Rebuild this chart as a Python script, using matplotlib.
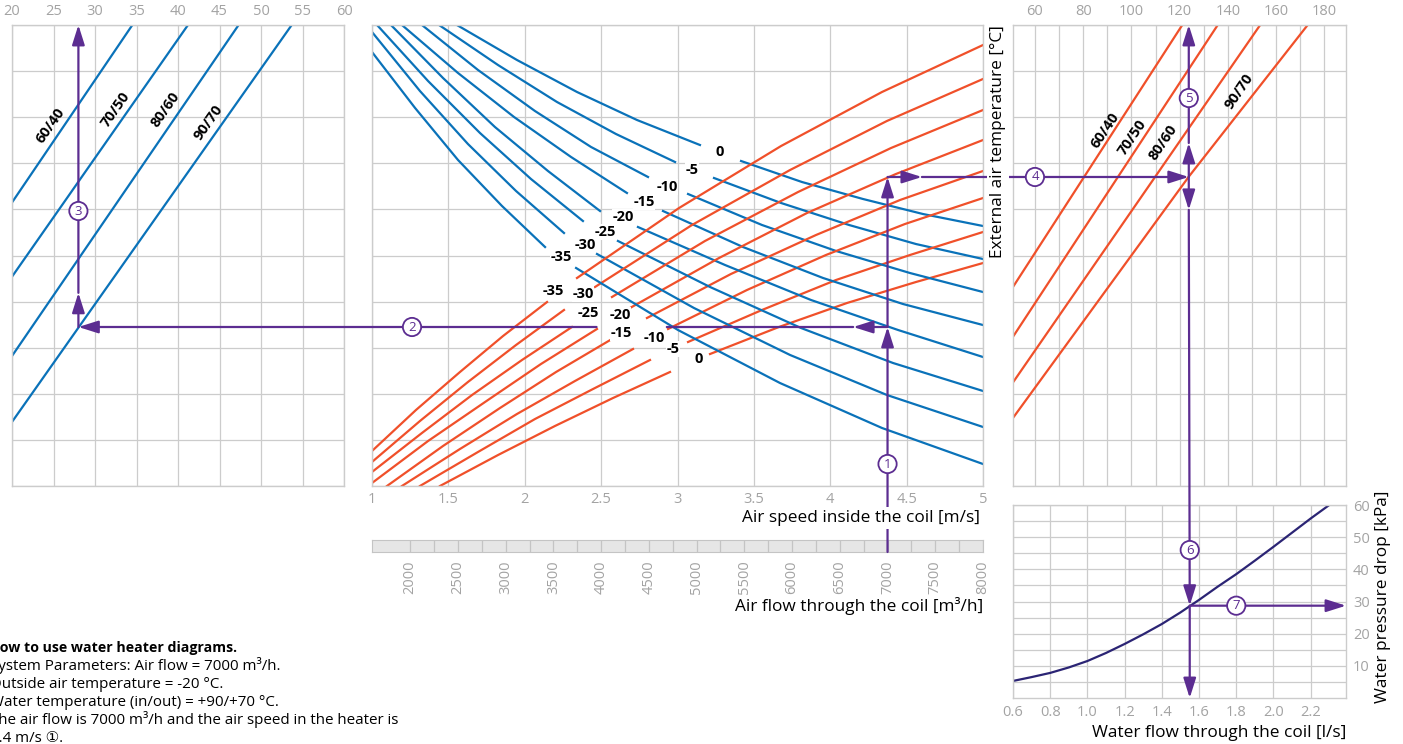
import matplotlib.pyplot as plt
from matplotlib.patches import ConnectionPatch
from matplotlib.ticker import FixedLocator

plt.rcParams['font.family'] = ['Open Sans', 'DejaVu Sans', 'Noto Sans CJK JP']

BLUE = '#0a72b9'
RED = '#f0502a'
NAVY = '#2b2474'
PURPLE = '#5c2d91'
GRID = '#cccccc'
TICK = '#a3a3a3'

# ---------------- data ----------------
regimes = ['60/40', '70/50', '80/60', '90/70']

# left chart (top scale 20..60, shared unlabeled vertical scale 0..10)
left_lines = [
    [(20, 6.15), (34.5, 10.0)],
    [(20, 4.54), (41.2, 10.0)],
    [(20, 2.82), (47.3, 10.0)],
    [(20, 1.39), (53.7, 10.0)],
]
left_label_pos = [(24.6, 7.83), (32.45, 8.16), (38.5, 8.16), (43.7, 7.88)]

# right chart (top scale 60..180)
right_lines = [
    [(50.8, 4.31), (121.1, 10.0)],
    [(50.8, 3.23), (135.8, 10.0)],
    [(50.8, 2.24), (153.4, 10.0)],
    [(50.8, 1.47), (123.8, 6.71), (173.1, 10.0)],
]
right_label_pos = [(89.0, 7.72), (100.5, 7.57), (113.0, 7.46), (144.8, 8.55)]

# middle chart: external air temperature curves vs air speed [m/s]
temps = [0, -5, -10, -15, -20, -25, -30, -35]

blue_upper = {
    0: [(1.556, 10.0), (1.949, 9.241), (2.342, 8.547), (2.735, 7.939), (3.147, 7.397)],
    -5: [(1.439, 10.0), (1.825, 9.132), (2.211, 8.330), (2.597, 7.636), (2.984, 7.028)],
    -10: [(1.327, 10.0), (1.694, 9.024), (2.067, 8.134), (2.434, 7.354), (2.807, 6.703)],
    -15: [(1.196, 10.0), (1.563, 8.959), (1.930, 8.004), (2.303, 7.137), (2.669, 6.356)],
    -20: [(1.124, 10.0), (1.465, 8.850), (1.805, 7.787), (2.152, 6.833), (2.493, 5.965)],
    -25: [(1.033, 10.0), (1.367, 8.785), (1.707, 7.657), (2.041, 6.659), (2.381, 5.748)],
    -30: [(1.0, 9.848), (1.314, 8.568), (1.628, 7.419), (1.943, 6.399), (2.257, 5.488)],
    -35: [(1.0, 9.414), (1.282, 8.200), (1.563, 7.072), (1.851, 6.074), (2.133, 5.184)],
}
blue_lower = {
    0: [(3.416, 7.050), (3.815, 6.594), (4.214, 6.226), (4.607, 5.900), (5.0, 5.640)],
    -5: [(3.239, 6.681), (3.678, 6.139), (4.123, 5.662), (4.561, 5.249), (5.0, 4.924)],
    -10: [(3.069, 6.334), (3.553, 5.662), (4.038, 5.098), (4.522, 4.620), (5.0, 4.208)],
    -15: [(2.905, 5.965), (3.429, 5.184), (3.953, 4.512), (4.476, 3.948), (5.0, 3.492)],
    -20: [(2.741, 5.618), (3.311, 4.794), (3.874, 4.035), (4.444, 3.384), (5.0, 2.798)],
    -25: [(2.610, 5.315), (3.213, 4.317), (3.809, 3.427), (4.411, 2.668), (5.0, 2.061)],
    -30: [(2.473, 5.033), (3.108, 3.861), (3.737, 2.842), (4.371, 1.974), (5.0, 1.280)],
    -35: [(2.336, 4.729), (3.003, 3.384), (3.671, 2.234), (4.339, 1.258), (5.0, 0.477)],
}
blue_label_pos = {
    0: (3.278, 7.245), -5: (3.095, 6.855), -10: (2.931, 6.486), -15: (2.781, 6.161),
    -20: (2.643, 5.835), -25: (2.525, 5.510), -30: (2.394, 5.228), -35: (2.237, 4.967),
}

red_lower = {
    -35: [(1.0, 0.759), (1.288, 1.649), (1.576, 2.473), (1.858, 3.254), (2.146, 3.991)],
    -30: [(1.0, 0.521), (1.314, 1.410), (1.628, 2.256), (1.943, 3.059), (2.257, 3.818)],
    -25: [(1.0, 0.304), (1.327, 1.150), (1.655, 1.974), (1.982, 2.733), (2.309, 3.449)],
    -20: [(1.0, 0.065), (1.367, 0.976), (1.740, 1.822), (2.106, 2.646), (2.473, 3.406)],
    -15: [(1.098, 0.0), (1.465, 0.868), (1.838, 1.692), (2.205, 2.473), (2.571, 3.189)],
    -10: [(1.196, 0.0), (1.576, 0.803), (1.949, 1.562), (2.329, 2.278), (2.709, 2.972)],
    -5: [(1.314, 0.0), (1.694, 0.738), (2.067, 1.453), (2.447, 2.104), (2.820, 2.733)],
    0: [(1.445, 0.0), (1.825, 0.672), (2.198, 1.302), (2.578, 1.909), (2.951, 2.473)],
}
red_upper = {
    -35: [(2.342, 4.512), (3.010, 6.030), (3.678, 7.375), (4.339, 8.547), (5.0, 9.566)],
    -30: [(2.460, 4.317), (3.095, 5.662), (3.737, 6.855), (4.371, 7.918), (5.0, 8.829)],
    -25: [(2.571, 4.100), (3.180, 5.315), (3.789, 6.377), (4.398, 7.332), (5.0, 8.156)],
    -20: [(2.689, 3.861), (3.272, 4.946), (3.848, 5.922), (4.430, 6.768), (5.0, 7.505)],
    -15: [(2.800, 3.644), (3.350, 4.599), (3.907, 5.445), (4.457, 6.204), (5.0, 6.833)],
    -10: [(2.938, 3.406), (3.455, 4.252), (3.972, 5.011), (4.489, 5.683), (5.0, 6.247)],
    -5: [(3.069, 3.124), (3.553, 3.818), (4.038, 4.469), (4.522, 5.011), (5.0, 5.510)],
    0: [(3.213, 2.863), (3.664, 3.449), (4.110, 3.970), (4.561, 4.425), (5.0, 4.837)],
}
red_label_pos = {
    -35: (2.185, 4.230), -30: (2.381, 4.165), -25: (2.414, 3.753), -20: (2.624, 3.709),
    -15: (2.630, 3.319), -10: (2.846, 3.210), -5: (2.971, 2.972), 0: (3.141, 2.755),
}

# bottom right chart: water pressure drop
water_flow = [0.6, 0.7, 0.8, 0.9, 1.0, 1.1, 1.2, 1.3, 1.4, 1.5, 1.6, 1.7, 1.8, 1.9,
              2.0, 2.1, 2.2, 2.3]
pressure_drop = [5.3, 6.5, 7.8, 9.5, 11.5, 14.0, 16.8, 19.8, 23.0, 26.6, 30.5, 34.6,
                 38.5, 42.7, 47.0, 51.4, 55.8, 60.0]

speed_ticks = [1, 1.5, 2, 2.5, 3, 3.5, 4, 4.5, 5]
flow_ticks = list(range(2000, 8001, 500))
FLOW_PER_SPEED = 1600  # 8000 m3/h <-> 5 m/s on the paired scales

# worked example
AIR_FLOW = 7000
SPEED = AIR_FLOW / FLOW_PER_SPEED
Y_HEAT = 3.449      # blue -20 curve at 7000 m3/h
Y_TEMP = 6.703      # red -20 curve at 7000 m3/h
LEFT_X = 28.0
RIGHT_X = 123.8
WATER_FLOW = 1.55
PRESSURE = 28.7

notes = [
    "System Parameters: Air flow = 7000 m³/h.",
    "Outside air temperature = -20 °C.",
    "Water temperature (in/out) = +90/+70 °C.",
    "The air flow is 7000 m³/h and the air speed in the heater is",
    "4.4 m/s ①.",
]

# ---------------- figure ----------------
W, H = 1403, 744
fig = plt.figure(figsize=(W / 100, H / 100), dpi=100)


def box(x0, y0, x1, y1):
    return [x0 / W, 1 - y1 / H, (x1 - x0) / W, (y1 - y0) / H]


def style(ax):
    for s in ax.spines.values():
        s.set_color(GRID)
        s.set_linewidth(1.0)
    ax.tick_params(which='both', length=0, colors=TICK, labelsize=10.5)
    ax.grid(True, which='both', color=GRID, lw=0.9)
    ax.set_axisbelow(True)


axL = fig.add_axes(box(12, 25, 344, 486))
axR = fig.add_axes(box(1013, 25, 1346, 486))
axP = fig.add_axes(box(1013, 505, 1346, 698))
axB = fig.add_axes(box(372, 540, 983, 552))
axM = fig.add_axes(box(372, 25, 983, 486))

# left chart
style(axL)
axL.set_xlim(20, 60)
axL.set_ylim(0, 10)
axL.xaxis.tick_top()
axL.set_xticks(range(20, 61, 5))
axL.set_yticks(range(11))
axL.tick_params(labelleft=False, pad=4)
for name, pts, pos in zip(regimes, left_lines, left_label_pos):
    axL.plot([p[0] for p in pts], [p[1] for p in pts], color=BLUE, lw=1.6)
    axL.text(pos[0], pos[1], name, rotation=55, ha='center', va='center',
             fontsize=10.5, fontweight='bold')

# right chart
style(axR)
axR.set_xlim(50.9, 189)
axR.set_ylim(0, 10)
axR.xaxis.tick_top()
axR.set_xticks(range(60, 181, 20))
axR.xaxis.set_minor_locator(FixedLocator(range(70, 180, 20)))
axR.set_yticks(range(11))
axR.tick_params(labelleft=False, pad=4)
for name, pts, pos in zip(regimes, right_lines, right_label_pos):
    axR.plot([p[0] for p in pts], [p[1] for p in pts], color=RED, lw=1.6)
    axR.text(pos[0], pos[1], name, rotation=56, ha='center', va='center',
             fontsize=10.5, fontweight='bold')

# pressure drop chart
style(axP)
axP.set_xlim(0.6, 2.39)
axP.set_ylim(0, 60)
axP.set_xticks([0.6, 0.8, 1.0, 1.2, 1.4, 1.6, 1.8, 2.0, 2.2])
axP.set_xticklabels(['0.6', '0.8', '1.0', '1.2', '1.4', '1.6', '1.8', '2.0', '2.2'])
axP.set_yticks(range(10, 61, 10))
axP.yaxis.set_minor_locator(FixedLocator(range(5, 60, 10)))
axP.yaxis.tick_right()
axP.tick_params(axis='x', pad=5)
axP.tick_params(axis='y', pad=5)
axP.plot(water_flow, pressure_drop, color=NAVY, lw=1.6)

# air flow band
axB.set_facecolor('#e6e6e6')
for s in axB.spines.values():
    s.set_color('#c4c4c4')
axB.set_xlim(1 * FLOW_PER_SPEED, 5 * FLOW_PER_SPEED)
axB.set_ylim(0, 1)
axB.set_yticks([])
axB.set_xticks(flow_ticks)
axB.set_xticklabels([str(f) for f in flow_ticks], rotation=90)
axB.xaxis.set_minor_locator(FixedLocator(range(2250, 8000, 500)))
axB.grid(True, axis='x', which='both', color='#c4c4c4', lw=0.9)
axB.tick_params(which='both', length=0, colors=TICK, labelsize=10.5, pad=6)

# middle chart
style(axM)
axM.set_xlim(1, 5)
axM.set_ylim(0, 10)
axM.set_xticks(speed_ticks)
axM.set_xticklabels([f'{s:g}' for s in speed_ticks])
axM.set_yticks(range(11))
axM.tick_params(labelleft=False, pad=4)

for t in temps:
    for seg in (blue_upper[t], blue_lower[t]):
        axM.plot([p[0] for p in seg], [p[1] for p in seg], color=BLUE, lw=1.6, zorder=2)
    for seg in (red_lower[t], red_upper[t]):
        axM.plot([p[0] for p in seg], [p[1] for p in seg], color=RED, lw=1.6, zorder=2)
    for pos in (blue_label_pos[t], red_label_pos[t]):
        axM.text(pos[0], pos[1], f'{t}', ha='center', va='center', fontsize=10.5,
                 fontweight='bold', zorder=7,
                 bbox=dict(boxstyle='square,pad=0.05', fc='white', ec='none'))

# worked example path
ARROW = '-|>,head_length=1.2,head_width=0.38'


def link(axa, pa, axb, pb, head=True):
    con = ConnectionPatch(xyA=pa, coordsA=axa.transData, xyB=pb, coordsB=axb.transData,
                          arrowstyle=ARROW if head else '-', color=PURPLE, lw=1.6,
                          mutation_scale=10, shrinkA=0, shrinkB=0, zorder=5)
    axM.add_artist(con)
    con.set_clip_on(False)


def step(ax, x, y, n):
    axM.text(x, y, str(n), transform=ax.transData, ha='center', va='center',
             color=PURPLE, fontsize=9.5, zorder=8, clip_on=False,
             bbox=dict(boxstyle='circle,pad=0.2', fc='white', ec=PURPLE, lw=1.3))


link(axB, (AIR_FLOW, 0), axM, (SPEED, Y_HEAT))
link(axM, (SPEED, Y_HEAT), axM, (SPEED, Y_TEMP))
link(axM, (SPEED, Y_HEAT), axM, (4.15, Y_HEAT))
link(axM, (4.15, Y_HEAT), axM, (2.93, Y_HEAT), head=False)
link(axM, (2.47, Y_HEAT), axL, (LEFT_X, Y_HEAT))
link(axL, (LEFT_X, Y_HEAT), axL, (LEFT_X, 4.19))
link(axL, (LEFT_X, 4.19), axL, (LEFT_X, 10))
link(axM, (SPEED, Y_TEMP), axM, (4.60, Y_TEMP))
link(axM, (4.60, Y_TEMP), axR, (RIGHT_X, Y_TEMP))
link(axR, (RIGHT_X, Y_TEMP), axR, (RIGHT_X, 7.44))
link(axR, (RIGHT_X, 7.44), axR, (RIGHT_X, 10))
link(axR, (RIGHT_X, Y_TEMP), axR, (RIGHT_X, 5.99))
link(axR, (RIGHT_X, 5.99), axP, (WATER_FLOW, PRESSURE))
link(axP, (WATER_FLOW, PRESSURE), axP, (WATER_FLOW, 0))
link(axP, (WATER_FLOW, PRESSURE), axP, (2.39, PRESSURE))

step(axM, SPEED, 0.477, 1)
step(axM, 1.262, Y_HEAT, 2)
step(axL, LEFT_X, 5.965, 3)
step(axR, 60, Y_TEMP, 4)
step(axR, RIGHT_X, 8.416, 5)
step(axP, WATER_FLOW, 46, 6)
step(axP, 1.8, PRESSURE, 7)

# axis titles
white = dict(boxstyle='square,pad=0.15', fc='white', ec='none')
fig.text(980 / W, 1 - 518 / H, 'Air speed inside the coil [m/s]', ha='right', va='center',
         fontsize=12.4, bbox=white)
fig.text(983 / W, 1 - 606 / H, 'Air flow through the coil [m³/h]', ha='right', va='center',
         fontsize=12.4)
fig.text(998 / W, 1 - 25 / H, 'External air temperature [°C]', rotation=90, ha='center',
         va='top', fontsize=12.4, bbox=white)
fig.text(1383 / W, 1 - 597 / H, 'Water pressure drop [kPa]', rotation=90, ha='center',
         va='center', fontsize=12.4)
fig.text(1346 / W, 1 - 733 / H, 'Water flow through the coil [l/s]', ha='right',
         va='center', fontsize=12.4)

# how-to notes, cut at the left edge like the source
fig.text(-11 / W, 1 - 648 / H, 'How to use water heater diagrams.', fontsize=10.2,
         fontweight='bold', va='center')
for i, line in enumerate(notes):
    fig.text(-10 / W, 1 - (666 + 18 * i) / H, line, fontsize=10.9, va='center')

fig.savefig('out.png', dpi=100)
